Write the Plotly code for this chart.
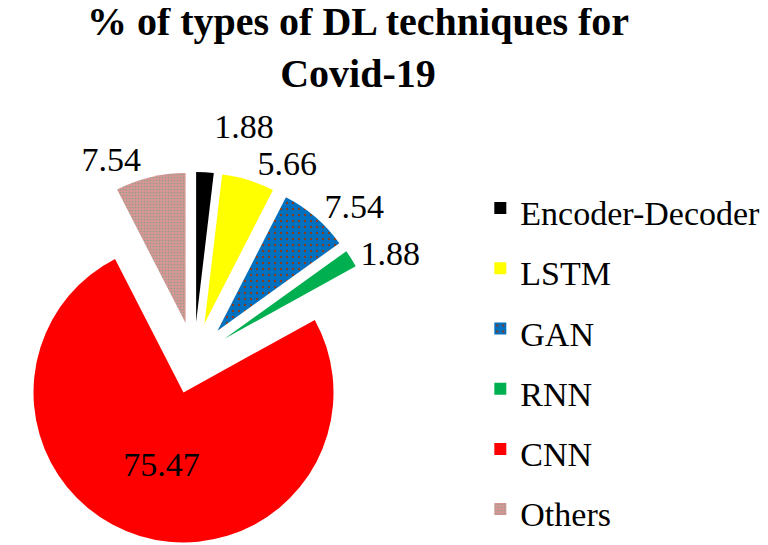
import plotly.graph_objects as go

# slice data, clockwise from 12 o'clock
labels = ["Encoder-Decoder", "LSTM", "GAN", "RNN", "CNN", "Others"]
values = [1.88, 5.66, 7.54, 1.88, 75.47, 7.54]
colors = ["#000000", "#FFFF00", "#0070C0", "#00B050", "#FF0000", "#D99694"]
text_pos = ["outside", "outside", "outside", "outside", "inside", "outside"]

W, H = 768, 545
FONT = "Liberation Serif"

# legend rows are sized from the legend font, so the entry text is set a bit smaller
legend_text = ['<span style="font-size:34px">%s</span>' % s for s in labels]

fig = go.Figure()
fig.add_trace(go.Pie(
    labels=legend_text,
    values=values,
    sort=False,
    direction="clockwise",
    rotation=0,
    pull=0.24,
    texttemplate='<span style="color:black;fill-opacity:1">%{value:.2f}</span>',
    textposition=text_pos,
    insidetextorientation="horizontal",
    textfont=dict(family=FONT, size=34, color="black"),
    # transparent so plotly's leader lines vanish; the span above keeps text black
    outsidetextfont=dict(family=FONT, size=34, color="rgba(0,0,0,0)"),
    marker=dict(
        colors=colors,
        line=dict(width=0),
        pattern=dict(
            shape=["", "", ".", "", "", "."],
            bgcolor=colors,
            fgcolor=["#000000", "#000000", "#8B3A1A", "#000000", "#000000", "#8FA08C"],
            size=[6, 6, 6, 6, 6, 3],
            solidity=[0.1, 0.1, 0.12, 0.1, 0.1, 0.25],
        ),
    ),
    domain=dict(x=[0, 372 / W], y=[9 / H, 381 / H]),
    hoverinfo="label+value",
))

fig.update_layout(
    width=W,
    height=H,
    margin=dict(l=0, r=0, t=0, b=0, autoexpand=False),
    paper_bgcolor="white",
    plot_bgcolor="white",
    font=dict(family=FONT, color="black"),
    title=dict(
        text="<b>% of types of DL techniques for<br>Covid-19</b>",
        font=dict(family=FONT, size=40, color="black"),
        x=350 / W, xanchor="center", xref="paper",
        y=0.95, yanchor="top", yref="container",
    ),
    legend=dict(
        font=dict(family=FONT, size=44, color="black"),
        x=0.615, xanchor="left",
        y=0.356, yanchor="middle",
        bgcolor="rgba(0,0,0,0)",
    ),
)

fig.write_html("out.html")
